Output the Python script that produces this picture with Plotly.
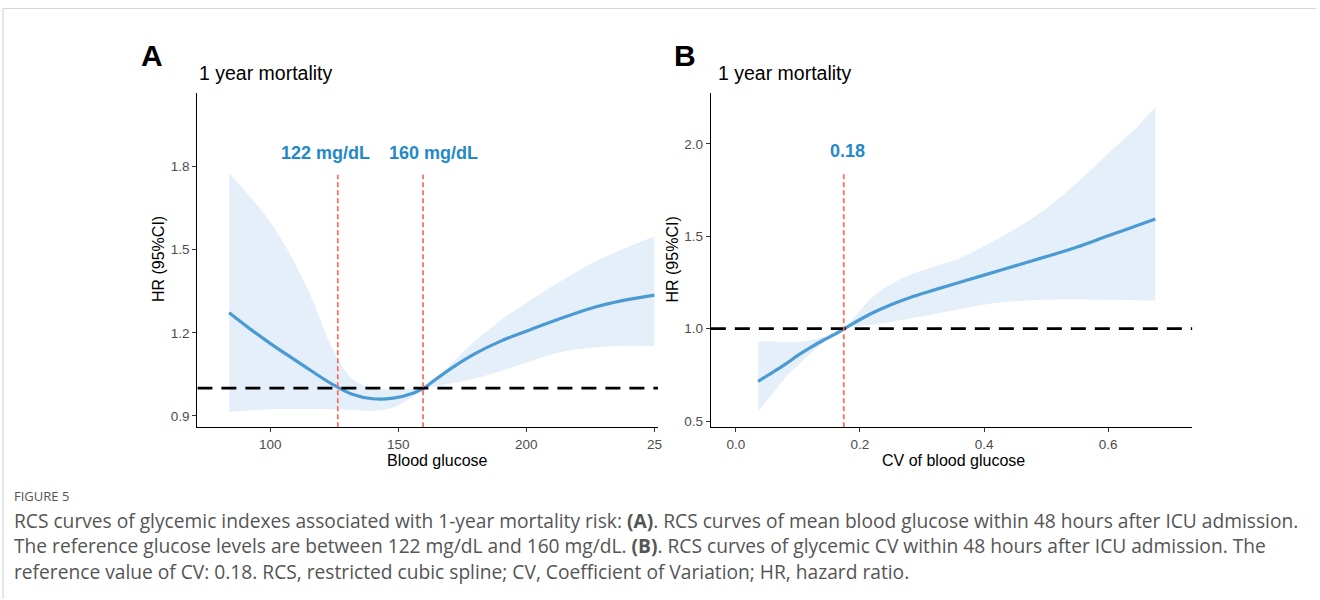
import plotly.graph_objects as go

W, H = 1320, 600

# ---------------- data: panel A (mean blood glucose) ----------------
glu_x = [84, 92, 100, 108, 116, 124, 132, 140, 148, 156, 160, 164, 172, 180, 190, 200, 212, 225, 237, 250]
glu_hr = [1.272, 1.215, 1.162, 1.112, 1.063, 1.016, 0.978, 0.962, 0.964, 0.983, 1.0, 1.028, 1.08, 1.125, 1.17, 1.206, 1.247, 1.288, 1.315, 1.336]
glu_up = [1.776, 1.692, 1.60, 1.48, 1.33, 1.15, 1.035, 1.0, 0.995, 0.997, 1.0, 1.03, 1.10, 1.17, 1.245, 1.308, 1.378, 1.448, 1.50, 1.548]
glu_lo = [0.914, 0.92, 0.924, 0.925, 0.925, 0.924, 0.922, 0.918, 0.93, 0.972, 1.0, 1.005, 1.02, 1.035, 1.062, 1.092, 1.127, 1.146, 1.152, 1.152]
glu_ref_lines = [126.4, 159.7]
glu_ref_labels = ["122 mg/dL", "160 mg/dL"]
glu_label_x = [121.7, 163.9]
glu_ticks = [100, 150, 200, 250]
glu_ticktext = ["100", "150", "200", "25"]
glu_yticks = [0.9, 1.2, 1.5, 1.8]

# ---------------- data: panel B (CV of blood glucose) ----------------
cv_x = [0.036, 0.06, 0.08, 0.10, 0.12, 0.14, 0.16, 0.175, 0.19, 0.22, 0.25, 0.28, 0.32, 0.36, 0.40, 0.45, 0.50, 0.55, 0.60, 0.64, 0.676]
cv_hr = [0.715, 0.765, 0.808, 0.855, 0.897, 0.936, 0.97, 1.0, 1.03, 1.085, 1.13, 1.168, 1.21, 1.25, 1.29, 1.34, 1.39, 1.442, 1.503, 1.55, 1.594]
cv_up = [0.93, 0.93, 0.927, 0.928, 0.937, 0.955, 0.98, 1.0, 1.06, 1.17, 1.24, 1.29, 1.337, 1.38, 1.446, 1.54, 1.65, 1.79, 1.95, 2.07, 2.20]
cv_lo = [0.552, 0.65, 0.735, 0.80, 0.865, 0.92, 0.965, 1.0, 1.01, 1.022, 1.037, 1.055, 1.08, 1.105, 1.13, 1.148, 1.156, 1.158, 1.156, 1.154, 1.153]
cv_ref_lines = [0.174]
cv_ref_labels = ["0.18"]
cv_label_x = [0.18]
cv_ticks = [0.0, 0.2, 0.4, 0.6]
cv_ticktext = ["0.0", "0.2", "0.4", "0.6"]
cv_yticks = [0.5, 1.0, 1.5, 2.0]

caption_lines = [
    "RCS curves of glycemic indexes associated with 1-year mortality risk: <b>(A)</b>. RCS curves of mean blood glucose within 48 hours after ICU admission.",
    "The reference glucose levels are between 122 mg/dL and 160 mg/dL. <b>(B)</b>. RCS curves of glycemic CV within 48 hours after ICU admission. The",
    "reference value of CV: 0.18. RCS, restricted cubic spline; CV, Coefficient of Variation; HR, hazard ratio.",
]

LINE = "#4A9AD3"
BAND = "#e5eff9"
RED = "#F86B57"
LBL = "#2389C9"
FONT = "Liberation Sans, Arial, sans-serif"
CAPFONT = "Open Sans, sans-serif"

def px(xp):
    return xp / W

def py(yp):
    return (H - yp) / H

fig = go.Figure()

def add_panel(xs, hr, up, lo, xa, ya):
    fig.add_trace(go.Scatter(x=xs, y=lo, mode="lines", line=dict(width=0, shape="spline"),
                             hoverinfo="skip", showlegend=False, xaxis=xa, yaxis=ya))
    fig.add_trace(go.Scatter(x=xs, y=up, mode="lines", fill="tonexty", fillcolor=BAND,
                             line=dict(width=0, shape="spline"),
                             hoverinfo="skip", showlegend=False, xaxis=xa, yaxis=ya))
    fig.add_trace(go.Scatter(x=xs, y=hr, mode="lines",
                             line=dict(color=LINE, width=3.2, shape="spline"),
                             showlegend=False, xaxis=xa, yaxis=ya))

add_panel(glu_x, glu_hr, glu_up, glu_lo, "x", "y")
add_panel(cv_x, cv_hr, cv_up, cv_lo, "x2", "y2")

xA = [71.6, 251.4]
xB = [-0.0402, 0.7357]
yA = [0.859, 2.066]
yB = [0.466, 2.277]

axis_common = dict(showgrid=False, zeroline=False, showline=True, linecolor="black",
                   linewidth=1.3, ticks="outside", ticklen=4, tickcolor="#333",
                   tickfont=dict(family=FONT, size=13.5, color="#4d4d4d"))

fig.update_layout(
    width=W, height=H, margin=dict(l=0, r=0, t=0, b=0),
    paper_bgcolor="white", plot_bgcolor="white",
    xaxis=dict(domain=[px(198), px(660)], range=xA, tickvals=glu_ticks,
               ticktext=glu_ticktext, anchor="y", **axis_common),
    yaxis=dict(domain=[py(428), py(93)], range=yA, tickvals=glu_yticks,
               tickformat=".1f", anchor="x", **axis_common),
    xaxis2=dict(domain=[px(713), px(1196)], range=xB, tickvals=cv_ticks,
                ticktext=cv_ticktext, anchor="y2", **axis_common),
    yaxis2=dict(domain=[py(428), py(93)], range=yB, tickvals=cv_yticks,
                tickformat=".1f", anchor="x2", **axis_common),
)

shapes = []
for xa, ya, rng in (("x", "y", xA), ("x2", "y2", xB)):
    shapes.append(dict(type="line", xref=xa, yref=ya, x0=rng[0], x1=rng[1], y0=1.0, y1=1.0,
                       line=dict(color="black", width=2.8, dash="15px,9px")))
for xv in glu_ref_lines:
    shapes.append(dict(type="line", xref="x", yref="y", x0=xv, x1=xv, y0=yA[0], y1=1.77,
                       line=dict(color=RED, width=1.7, dash="5px,3px")))
for xv in cv_ref_lines:
    shapes.append(dict(type="line", xref="x2", yref="y2", x0=xv, x1=xv, y0=yB[0], y1=1.84,
                       line=dict(color=RED, width=1.7, dash="5px,3px")))
# figure frame
shapes.append(dict(type="line", xref="paper", yref="paper", x0=px(3), x1=1.0, y0=py(8.5), y1=py(8.5),
                   line=dict(color="#d6d6d6", width=1.2)))
shapes.append(dict(type="line", xref="paper", yref="paper", x0=px(3), x1=px(3), y0=py(8.5), y1=0,
                   line=dict(color="#d6d6d6", width=1.2)))
fig.update_layout(shapes=shapes)

ann = []
def paper_text(text, x, y, size, color="black", family=FONT, xanchor="center", angle=0):
    ann.append(dict(text=text, x=px(x), y=py(y), xref="paper", yref="paper", xanchor=xanchor,
                    yanchor="middle", textangle=angle, showarrow=False,
                    font=dict(family=family, size=size, color=color)))

for t, xv in zip(glu_ref_labels, glu_label_x):
    ann.append(dict(text=f"<b>{t}</b>", x=xv, y=1.85, xref="x", yref="y", showarrow=False,
                    xanchor="center", yanchor="middle",
                    font=dict(family=FONT, size=18, color=LBL)))
for t, xv in zip(cv_ref_labels, cv_label_x):
    ann.append(dict(text=f"<b>{t}</b>", x=xv, y=1.964, xref="x2", yref="y2", showarrow=False,
                    xanchor="center", yanchor="middle",
                    font=dict(family=FONT, size=18, color=LBL)))

paper_text("<b>A</b>", 152, 56, 30)
paper_text("<b>B</b>", 687, 56, 30)
paper_text("1 year mortality", 198, 73, 19.5, xanchor="left")
paper_text("1 year mortality", 718, 73, 19.5, xanchor="left")
paper_text("Blood glucose", 438.5, 461, 16)
paper_text("CV of blood glucose", 956, 461, 16)
paper_text("HR (95%CI)", 159, 260, 16, angle=-90)
paper_text("HR (95%CI)", 675, 260, 16, angle=-90)

paper_text("FIGURE 5", 12, 497, 13, color="#555", family=CAPFONT, xanchor="left")
for i, line in enumerate(caption_lines):
    paper_text(line, 12, 521 + 25.5 * i, 19.2, color="#555", family=CAPFONT, xanchor="left")
fig.update_layout(annotations=ann)

fig.write_html("out.html")
